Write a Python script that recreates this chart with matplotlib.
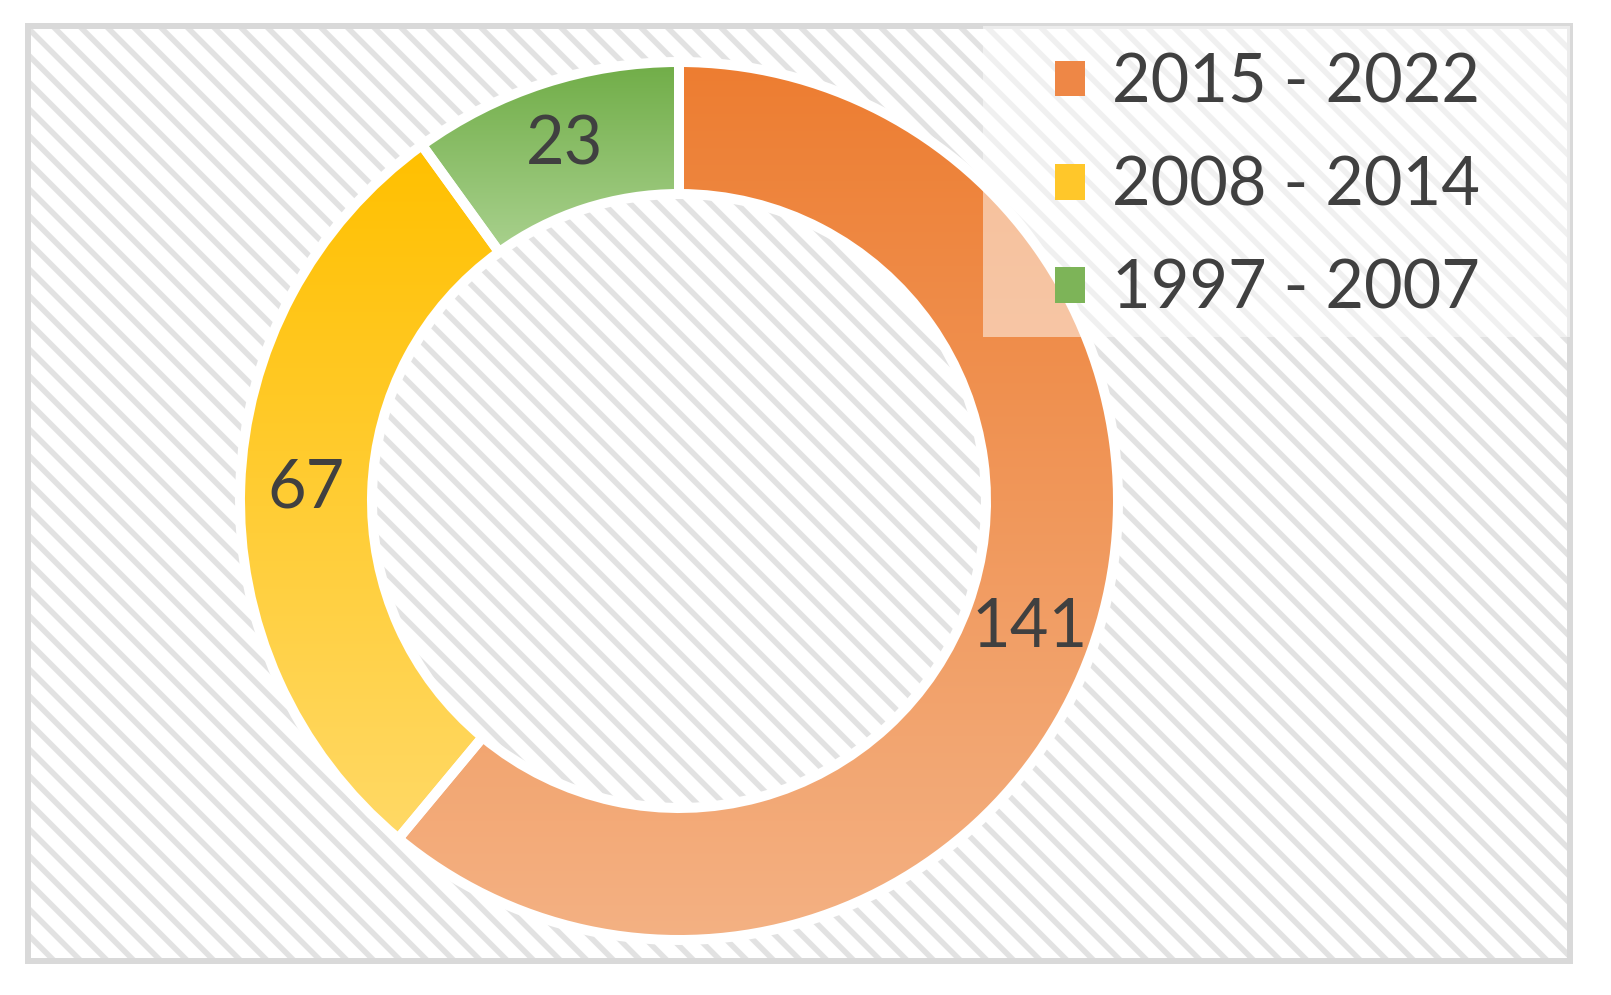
import numpy as np
import matplotlib.pyplot as plt
from matplotlib.patches import Rectangle, Patch
from matplotlib.colors import to_rgb

# data
periods = ["2015 - 2022", "2008 - 2014", "1997 - 2007"]
counts = [141, 67, 23]

# gradient colours per slice (top -> bottom)
top_colors = ["#ED7D31", "#FFC000", "#70AD47"]
bottom_colors = ["#F4B183", "#FFD966", "#A9D18E"]
legend_colors = ["#EE8746", "#FFC72A", "#7DB458"]

W, H, DPI = 1611, 995, 80
plt.rcParams['hatch.linewidth'] = 5.0
plt.rcParams['font.family'] = ['Lato', 'DejaVu Sans']
text_color = '#404040'

fig = plt.figure(figsize=(W / DPI, H / DPI), dpi=DPI)
ax = fig.add_axes([0, 0, 1, 1])  # data units == pixels, y up
ax.set_axis_off()

# hatched chart area with light grey frame
ax.add_patch(Rectangle((28, 34), 1542, 935, facecolor='white', edgecolor='#e2e2e2',
                       hatch='\\', lw=0, zorder=0))
ax.add_patch(Rectangle((28, 34), 1542, 935, facecolor='none', edgecolor='#d9d9d9',
                       lw=5.4, zorder=1))

total = sum(counts)
wedges, texts, autotexts = ax.pie(
    counts, center=(679, 494), radius=439, startangle=90, counterclock=False,
    colors=top_colors,
    wedgeprops=dict(width=132, edgecolor='white', linewidth=9),
    autopct=lambda p: f"{p * total / 100:.0f}", pctdistance=0.85,
    textprops=dict(fontsize=60, color=text_color))

# vertical gradient fill clipped to each slice
for w, c0, c1 in zip(wedges, top_colors, bottom_colors):
    ext = w.get_path().get_extents()
    grad = np.linspace(to_rgb(c0), to_rgb(c1), 256)[:, None, :]
    im = ax.imshow(grad, extent=(ext.x0, ext.x1, ext.y0, ext.y1), origin='upper',
                   aspect='auto', interpolation='bilinear', zorder=2)
    im.set_clip_path(w)
    w.set_facecolor('none')
    w.set_zorder(3)

for t in autotexts:
    t.set_zorder(4)

# semi-transparent legend box
ax.add_patch(Rectangle((983, 658), 1570 - 983, 969 - 658, facecolor='white',
                       alpha=0.5, lw=0, zorder=4))

handles = [Patch(facecolor=c, edgecolor='none') for c in legend_colors]
leg = ax.legend(handles, periods, loc='center left', bbox_to_anchor=(1055, 808.5),
                bbox_transform=ax.transData, frameon=False, fontsize=60,
                handlelength=0.45, handleheight=0.45, handletextpad=0.40,
                labelspacing=0.62, borderpad=0, borderaxespad=0,
                labelcolor=text_color)
leg.set_zorder(5)

ax.set_xlim(0, W)
ax.set_ylim(0, H)

fig.savefig('out.png', dpi=DPI)
